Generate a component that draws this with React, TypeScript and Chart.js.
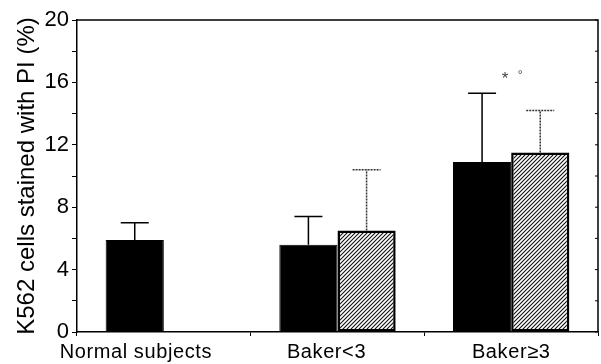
import React, { useEffect, useRef } from "react";
import { Chart, registerables } from "chart.js";

Chart.register(...registerables);

const categories = ["Normal subjects", "Baker<3", "Baker\u22653"];
const solidValues = [5.9, 5.6, 10.9];
const solidErrors = [1.1, 1.8, 4.4];
const hatchedValues = [null, 6.5, 11.5];
const hatchedErrors = [null, 3.9, 2.7];
const yTicks = [0, 4, 8, 12, 16, 20];
const annotationText = ["*", "\u00b0"];
const annotationValue = 16.4;

const FONT = "'Liberation Sans', Arial, Helvetica, sans-serif";

function makeHatch(): CanvasPattern | string {
  const c = document.createElement("canvas");
  c.width = 4;
  c.height = 4;
  const g = c.getContext("2d");
  if (!g) return "#888";
  g.fillStyle = "#fff";
  g.fillRect(0, 0, 4, 4);
  g.strokeStyle = "#111";
  g.lineWidth = 1.1;
  g.beginPath();
  g.moveTo(0, 4);
  g.lineTo(4, 0);
  g.moveTo(-1, 1);
  g.lineTo(1, -1);
  g.moveTo(3, 5);
  g.lineTo(5, 3);
  g.stroke();
  const p = g.createPattern(c, "repeat");
  return p || "#888";
}

const errorBarPlugin = {
  id: "errorBars",
  afterDatasetsDraw(chart: any) {
    const ctx = chart.ctx;
    const yScale = chart.scales.y;
    const errs = [solidErrors, hatchedErrors];
    chart.data.datasets.forEach((ds: any, di: number) => {
      const meta = chart.getDatasetMeta(di);
      meta.data.forEach((bar: any, i: number) => {
        const v = ds.data[i];
        const e = errs[di][i];
        if (v == null || e == null) return;
        const yTop = yScale.getPixelForValue(v + e);
        const yBase = yScale.getPixelForValue(v);
        const x = bar.x;
        ctx.save();
        ctx.strokeStyle = di === 0 ? "#000" : "#333";
        ctx.lineWidth = 1.5;
        if (di === 1) ctx.setLineDash([2, 1]);
        ctx.beginPath();
        ctx.moveTo(x, yBase);
        ctx.lineTo(x, yTop);
        ctx.moveTo(x - 14, yTop);
        ctx.lineTo(x + 14, yTop);
        ctx.stroke();
        ctx.restore();
      });
    });
  },
};

// per-category horizontal nudge of the category labels (as in the original figure)
const labelNudge = [-28, -11, 0];

const framePlugin = {
  id: "frame",
  afterDraw(chart: any) {
    const { ctx, chartArea } = chart;
    const yScale = chart.scales.y;
    const xScale = chart.scales.x;
    ctx.save();
    ctx.strokeStyle = "#000";
    ctx.lineWidth = 1.5;
    ctx.beginPath();
    ctx.moveTo(chartArea.left, chartArea.top);
    ctx.lineTo(chartArea.right, chartArea.top);
    ctx.lineTo(chartArea.right, chartArea.bottom);
    ctx.stroke();
    ctx.lineWidth = 1;
    ctx.beginPath();
    yScale.ticks.forEach((t: any) => {
      const y = yScale.getPixelForValue(t.value);
      ctx.moveTo(chartArea.right, y);
      ctx.lineTo(chartArea.right - 3, y);
    });
    ctx.stroke();
    // category labels
    ctx.fillStyle = "#000";
    ctx.textAlign = "center";
    ctx.textBaseline = "top";
    ctx.font = `20px ${FONT}`;
    try {
      (ctx as any).letterSpacing = "0.6px";
    } catch (e) {}
    categories.forEach((c, i) => {
      ctx.fillText(c, xScale.getPixelForValue(i) + labelNudge[i], chartArea.bottom + 10);
    });
    try {
      (ctx as any).letterSpacing = "0px";
    } catch (e) {}
    // annotation above third group
    const cx = xScale.getPixelForValue(2);
    const ay = yScale.getPixelForValue(annotationValue);
    ctx.fillStyle = "#444";
    ctx.textBaseline = "middle";
    ctx.font = `17px ${FONT}`;
    ctx.fillText(annotationText[0], cx - 6, ay + 3);
    ctx.font = `12px ${FONT}`;
    ctx.fillText(annotationText[1], cx + 9, ay);
    ctx.restore();
  },
};

export default function App() {
  const ref = useRef<HTMLCanvasElement>(null);
  useEffect(() => {
    document.body.style.margin = "0";
    const canvas = ref.current;
    if (!canvas) return;
    const chart = new Chart(canvas, {
      type: "bar",
      data: {
        labels: categories,
        datasets: [
          {
            label: "solid",
            data: solidValues,
            backgroundColor: "#000",
            borderColor: "#000",
            borderWidth: 1,
          },
          {
            label: "hatched",
            data: hatchedValues as any,
            backgroundColor: makeHatch() as any,
            borderColor: "#000",
            borderWidth: 2.5,
            borderSkipped: false,
          },
        ],
      },
      options: {
        responsive: false,
        animation: false,
        devicePixelRatio: 1,
        layout: { padding: { top: 20, right: 3, left: 0, bottom: 0 } },
        datasets: { bar: { categoryPercentage: 0.67, barPercentage: 1.0 } },
        plugins: {
          legend: { display: false },
          tooltip: { enabled: false },
          title: { display: false },
        },
        scales: {
          x: {
            type: "category",
            offset: true,
            grid: {
              offset: true,
              drawOnChartArea: false,
              drawTicks: true,
              tickLength: 4,
              color: "#000",
            },
            border: { display: true, color: "#000", width: 1.5 },
            ticks: { display: false },
            afterFit(scale: any) {
              scale.height = 32;
            },
          },
          y: {
            min: 0,
            max: 20,
            grid: {
              drawOnChartArea: false,
              drawTicks: true,
              tickLength: 5,
              color: "#000",
            },
            border: { display: true, color: "#000", width: 1.5 },
            ticks: {
              stepSize: 2,
              autoSkip: false,
              color: "#000",
              padding: 3,
              font: { family: FONT, size: 22 },
              callback: (v: any) => (yTicks.includes(Number(v)) ? String(v) : ""),
            },
            title: {
              display: true,
              text: "K562 cells stained with PI (%)",
              color: "#000",
              font: { family: FONT, size: 24 },
              padding: { top: 13, bottom: 0 },
            },
            afterFit(scale: any) {
              scale.width = 77;
            },
          },
        },
      },
      plugins: [errorBarPlugin, framePlugin],
    });
    return () => chart.destroy();
  }, []);
  return (
    <div style={{ width: 601, height: 364 }}>
      <canvas ref={ref} width={601} height={364} />
    </div>
  );
}
